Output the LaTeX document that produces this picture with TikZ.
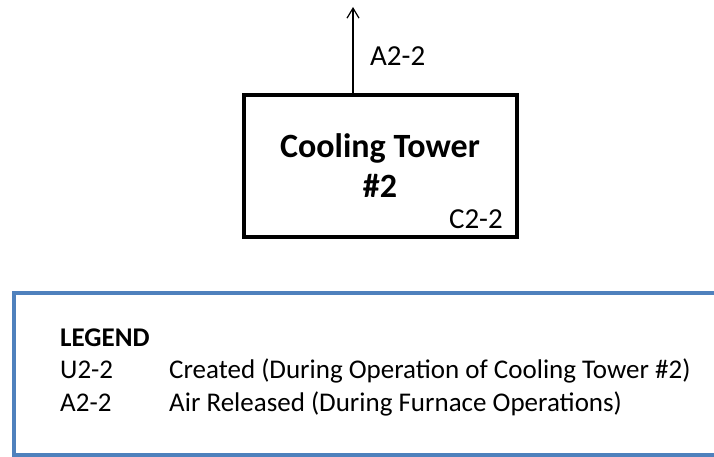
\documentclass[tikz,border=0pt]{standalone}
\usepackage{fontspec}
\setmainfont{Carlito}
\usetikzlibrary{arrows.meta, positioning}
\definecolor{legendblue}{HTML}{4F81BD}
\tikzset{
  unit/.style={draw, line width=4pt, minimum width=273pt, minimum height=141.5pt, inner sep=0pt},
  arr/.style={-{Straight Barb[length=10pt, width=12pt]}, line width=1.2pt},
  lbl/.style={font=\fontsize{29}{34}\selectfont, inner sep=0pt},
  legtxt/.style={font=\fontsize{27}{32.5}\selectfont, inner sep=0pt, anchor=base west},
}
\begin{document}
\begin{tikzpicture}[x=1pt, y=-1pt]
    \useasboundingbox (0,0) rectangle (714,457);
    % cooling tower unit
    \node[unit] (ct) at (380,165.75) {};
    \node[font=\fontsize{34}{40}\selectfont\bfseries, align=center, inner sep=0pt,
      anchor=base] (ctname) at (380,197) {Cooling Tower\\\#2};
    \node[lbl, anchor=base east] (ctid) at (503,228) {C2-2};
    % air release
    \coordinate (out) at (353,7);
    \draw[arr] (ct.north -| out) -- (out);
    \node[lbl, anchor=base west] (air) at (370,66) {A2-2};
    % legend
    \draw[legendblue, line width=4pt] (730,293) -- (13.5,293) -- (13.5,455) -- (730,455);
    \node[legtxt] (legend) at (60,346) {%
      \begin{tabular}[t]{@{}p{109pt}@{}l@{}}
        \textbf{LEGEND} & \\
        U2-2 & Created (During Operation of Cooling Tower \#2)\\
        A2-2 & Air Released (During Furnace Operations)
      \end{tabular}};
  \end{tikzpicture}
\end{document}
